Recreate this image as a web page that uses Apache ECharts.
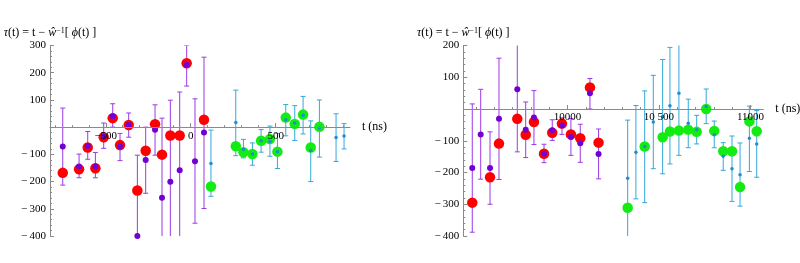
<!DOCTYPE html>
<html><head><meta charset="utf-8">
<script src="https://cdn.jsdelivr.net/npm/echarts@6/dist/echarts.min.js"></script>
<style>html,body{margin:0;padding:0;background:#fff}#c{width:800px;height:263px}</style>
</head><body><div id="c"></div>
<script>
// ---------- LEFT PANEL DATA ----------
const leftPurpleT  = [-753,-657,-606,-561,-512,-459,-416,-365,-314,-265,-210,-169,-120,-65,-24,25,78];
const leftPurpleY  = [-71,-145,-69,-145,-35,40,-70,8,-400,-121,-10,-259,-201,-158,229,-125,-20];
const leftPurpleLo = [-213,-186,-118,-186,-78,0,-123,-37,-697,-243,-103,-551,-501,-445,151,-353,-299];
const leftPurpleHi = [70,-99,-16,-93,15,86,-23,52,-103,0,82,33,99,129,300,104,257];
const leftRedT = [-753,-657,-606,-561,-512,-459,-416,-365,-314,-265,-210,-169,-120,-65,-24,78];
const leftRedY = [-168,-155,-75,-151,-37,33,-66,8,-233,-87,11,-101,-31,-31,235,27];
const leftBlueT  = [119,265,310,363,414,466,510,559,612,661,706,757,855,902];
const leftBlueY  = [-134,17,-81,-99,-50,-53,-90,27,15,44,-86,-3,-38,-33];
const leftBlueLo = [-254,-105,-113,-140,-92,-107,-152,-32,-49,-25,-200,-110,-126,-80];
const leftBlueHi = [-11,136,-45,-58,-9,4,-23,83,79,113,23,100,49,13];
const leftGreenT = [119,265,310,363,414,466,510,559,612,661,706,757];
const leftGreenY = [-218,-70,-92,-99,-50,-44,-90,35,12,46,-75,1];
const leftXTickValues = [-500,0,500];
const leftXTickLabels = ['\u2212500','0','500'];

// ---------- RIGHT PANEL DATA ----------
const rightPurpleT  = [9480,9526,9577,9626,9726,9772,9817,9872,9917,9970,10019,10070,10123,10170];
const rightPurpleY  = [-186,-80,-186,-31,62,-65,-27,-141,-67,-52,-88,-108,50,-142];
const rightPurpleLo = [-388,-221,-300,-222,-135,-153,-112,-169,-99,-80,-146,-168,0,-220];
const rightPurpleHi = [16,62,-72,160,259,22,58,-111,-34,-28,-30,-48,96,-63];
const rightRedT = [9480,9577,9626,9726,9772,9817,9872,9917,9970,10019,10070,10123,10170];
const rightRedY = [-295,-215,-109,-31,-81,-41,-141,-75,-46,-80,-92,68,-106];
const rightBlueT  = [10329,10374,10422,10469,10520,10560,10609,10660,10706,10758,10802,10851,10899,10943,10994,11034];
const rightBlueY  = [-218,-136,-118,-41,-24,10,50,-45,-65,8,-81,-149,-188,-207,-92,-110];
const rightBlueLo = [-405,-283,-295,-188,-204,-173,-146,-122,-110,-46,-122,-193,-291,-306,-197,-215];
const rightBlueHi = [-35,11,57,106,156,194,246,31,-20,63,-38,-106,-85,-107,9,-5];
const rightGreenT = [10329,10422,10520,10560,10609,10660,10706,10758,10802,10851,10899,10943,10994,11034];
const rightGreenY = [-311,-118,-89,-71,-68,-65,-72,0,-69,-133,-133,-246,-39,-70];
const rightXTickValues = [10000,10500,11000];
const rightXTickLabels = ['10000','10 500','11000'];

// ---------- STYLE ----------
const FONT = 'Liberation Serif';
const AXIS_COLOR = '#8a8a8a';
const PURPLE_BAR = '#9a3ae6';
const PURPLE_DOT = '#7200d4';
const RED = '#ff0000';
const BLUE_BAR = '#33a8da';
const BLUE_DOT = '#1b8fd2';
const GREEN = '#12ec12';
const GRID_H = 190.5;

function range(a, b, s) { const r = []; for (let v = a; v <= b; v += s) r.push(v); return r; }

function yLabel(v) {
  if (v === 0) return '';
  return v < 0 ? '\u2212\u2009' + Math.abs(v) : String(v);
}

const titleName = '{it|\u03C4}(t) = t \u2212 {it|\u0175}{sup|\u22121}[ {it|\u03D5}(t) ]';
const titleStyle = {
  fontFamily: FONT, fontSize: 12, color: '#000', align: 'center',
  rich: {
    it: {fontFamily: FONT, fontSize: 12, fontStyle: 'italic', color: '#000'},
    sup: {fontFamily: FONT, fontSize: 8, color: '#000', verticalAlign: 'top', padding: [0,0,5,0]}
  }
};

function yAxisDef(grid, min, max) {
  return {
    type: 'value', gridIndex: grid, min: min, max: max, interval: 100,
    name: titleName, nameLocation: 'end', nameGap: 6, nameTextStyle: titleStyle,
    nameMoveOverlap: false,
    axisLine: {show: true, onZero: false, lineStyle: {color: AXIS_COLOR, width: 1}},
    axisTick: {show: true, inside: true, length: 4, lineStyle: {color: AXIS_COLOR}},
    minorTick: {show: true, splitNumber: 5, length: 2, lineStyle: {color: AXIS_COLOR}},
    splitLine: {show: false},
    axisLabel: {fontFamily: FONT, fontSize: 11, color: '#000', margin: 4, formatter: yLabel, showMinLabel: true, showMaxLabel: true}
  };
}

// offset that lifts a bottom x axis from the grid edge up to y = 0
function zeroOffset(ymin, ymax) { return -GRID_H * (0 - ymin) / (ymax - ymin); }

function xMainDef(grid, min, max, vals, labels, off) {
  return {
    type: 'value', gridIndex: grid, min: min, max: max, position: 'bottom', offset: off, z: 10,
    name: 't (ns)', nameLocation: 'end', nameGap: 12, nameMoveOverlap: false,
    nameTextStyle: {fontFamily: FONT, fontSize: 12, color: '#000', verticalAlign: 'middle'},
    axisLine: {show: true, onZero: false, lineStyle: {color: AXIS_COLOR, width: 1}},
    axisTick: {show: true, inside: true, length: 4, customValues: vals, lineStyle: {color: AXIS_COLOR}},
    splitLine: {show: false},
    axisLabel: {fontFamily: FONT, fontSize: 11, color: '#000', margin: 3, customValues: vals,
      formatter: function (v) { const i = vals.indexOf(v); return i >= 0 ? labels[i] : ''; }}
  };
}

function xMinorDef(grid, min, max, vals, off) {
  return {
    type: 'value', gridIndex: grid, min: min, max: max, position: 'bottom', offset: off,
    axisLine: {show: false, onZero: false},
    axisTick: {show: true, inside: true, length: 2, customValues: vals, lineStyle: {color: AXIS_COLOR}},
    axisLabel: {show: false},
    splitLine: {show: false}
  };
}

function errSeries(xIdx, yIdx, t, lo, hi, color) {
  return {
    type: 'custom', xAxisIndex: xIdx, yAxisIndex: yIdx, clip: true, silent: true,
    data: t.map((v, i) => [v, lo[i], hi[i]]),
    encode: {x: 0, y: [1, 2]},
    renderItem: function (params, api) {
      const pLo = api.coord([api.value(0), api.value(1)]);
      const pHi = api.coord([api.value(0), api.value(2)]);
      const w = 2.5;
      const st = {stroke: color, lineWidth: 1};
      return {type: 'group', children: [
        {type: 'line', shape: {x1: pLo[0], y1: pLo[1], x2: pHi[0], y2: pHi[1]}, style: st},
        {type: 'line', shape: {x1: pLo[0] - w, y1: pLo[1], x2: pLo[0] + w, y2: pLo[1]}, style: st},
        {type: 'line', shape: {x1: pHi[0] - w, y1: pHi[1], x2: pHi[0] + w, y2: pHi[1]}, style: st}
      ]};
    }
  };
}

function dotSeries(xIdx, yIdx, t, y, color, size) {
  return {
    type: 'scatter', xAxisIndex: xIdx, yAxisIndex: yIdx, silent: true,
    data: t.map((v, i) => [v, y[i]]),
    symbol: 'circle', symbolSize: size,
    itemStyle: {color: color, opacity: 1}
  };
}

const offL = zeroOffset(-400, 300);
const offR = zeroOffset(-400, 200);

const option = {
  animation: false,
  backgroundColor: '#fff',
  grid: [
    {left: 50, top: 45.5, width: 300, height: GRID_H, containLabel: false, outerBoundsMode: 'none'},
    {left: 463.3, top: 45.5, width: 300, height: GRID_H, containLabel: false, outerBoundsMode: 'none'}
  ],
  yAxis: [yAxisDef(0, -400, 300), yAxisDef(1, -400, 200)],
  xAxis: [
    xMainDef(0, -828, 937, leftXTickValues, leftXTickLabels, offL),
    xMinorDef(0, -828, 937, range(-800, 900, 100), offL),
    xMainDef(1, 9431, 11070, rightXTickValues, rightXTickLabels, offR),
    xMinorDef(1, 9431, 11070, range(9500, 11000, 100), offR)
  ],
  series: [
    errSeries(0, 0, leftPurpleT, leftPurpleLo, leftPurpleHi, PURPLE_BAR),
    dotSeries(0, 0, leftRedT, leftRedY, RED, 10.5),
    dotSeries(0, 0, leftPurpleT, leftPurpleY, PURPLE_DOT, 6),
    errSeries(0, 0, leftBlueT, leftBlueLo, leftBlueHi, BLUE_BAR),
    dotSeries(0, 0, leftGreenT, leftGreenY, GREEN, 10.5),
    dotSeries(0, 0, leftBlueT, leftBlueY, BLUE_DOT, 3.5),

    errSeries(2, 1, rightPurpleT, rightPurpleLo, rightPurpleHi, PURPLE_BAR),
    dotSeries(2, 1, rightRedT, rightRedY, RED, 10.5),
    dotSeries(2, 1, rightPurpleT, rightPurpleY, PURPLE_DOT, 6),
    errSeries(2, 1, rightBlueT, rightBlueLo, rightBlueHi, BLUE_BAR),
    dotSeries(2, 1, rightGreenT, rightGreenY, GREEN, 10.5),
    dotSeries(2, 1, rightBlueT, rightBlueY, BLUE_DOT, 3.5)
  ]
};

const chart = echarts.init(document.getElementById('c'), null, {renderer: 'canvas'});
chart.setOption(option);
</script>
</body></html>
